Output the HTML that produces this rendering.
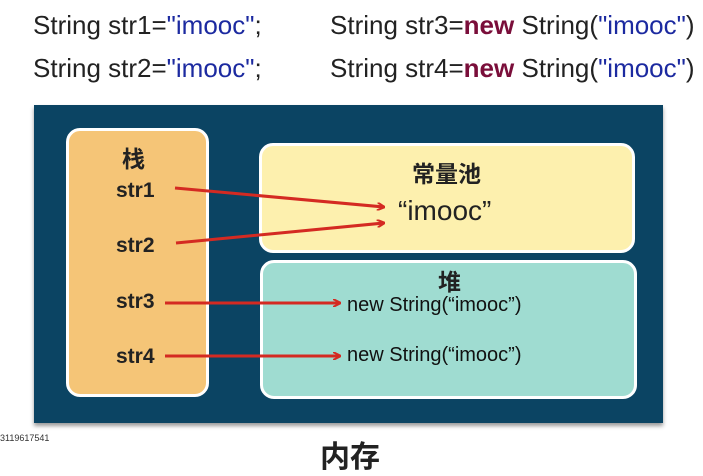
<!DOCTYPE html>
<html><head><meta charset="utf-8"><style>
body{margin:0;width:703px;height:443px;background:#fff;position:relative;overflow:hidden;font-family:"Liberation Sans","Noto Sans CJK SC",sans-serif}
.t{position:absolute;white-space:nowrap}
.code{font-size:26px;color:#222;line-height:30px}
.code .s{color:#1c2aa0}.code b{color:#7a0e3a}
.box{position:absolute;border:3px solid #fff;border-radius:14px;box-sizing:border-box}
</style></head><body>
<div class="t code" style="left:33px;top:10px">String str1=<span class="s">"imooc"</span>;</div>
<div class="t code" style="left:330px;top:10px">String str3=<b>new</b> String(<span class="s">"imooc"</span>)</div>
<div class="t code" style="left:33px;top:53px">String str2=<span class="s">"imooc"</span>;</div>
<div class="t code" style="left:330px;top:53px">String str4=<b>new</b> String(<span class="s">"imooc"</span>)</div>
<div style="position:absolute;left:34px;top:105px;width:629px;height:318px;background:#0b4463;box-shadow:0 3px 4px #999"></div>
<div class="box" style="left:66px;top:128px;width:143px;height:269px;background:#f5c577"></div>
<div class="box" style="left:259px;top:143px;width:376px;height:110px;background:#fdf0ae"></div>
<div class="box" style="left:260px;top:260px;width:377px;height:139px;background:#9fdcd1"></div>
<div class="t" style="left:122px;top:140px;font-size:23px;font-weight:bold;color:#222">栈</div>
<div class="t" style="left:116px;top:179px;font-size:21px;font-weight:bold;color:#222">str1</div>
<div class="t" style="left:116px;top:234px;font-size:21px;font-weight:bold;color:#222">str2</div>
<div class="t" style="left:116px;top:290px;font-size:21px;font-weight:bold;color:#222">str3</div>
<div class="t" style="left:116px;top:345px;font-size:21px;font-weight:bold;color:#222">str4</div>
<div class="t" style="left:412px;top:155px;font-size:23px;font-weight:bold;color:#222">常量池</div>
<div class="t" style="left:398px;top:195px;font-size:28px;color:#222">“imooc”</div>
<div class="t" style="left:438px;top:263px;font-size:23px;font-weight:bold;color:#222">堆</div>
<div class="t" style="left:347px;top:294px;font-size:20px;color:#111">new String(“imooc”)</div>
<div class="t" style="left:347px;top:344px;font-size:20px;color:#111">new String(“imooc”)</div>
<svg style="position:absolute;left:0;top:0" width="703" height="443">
<defs><marker id="a" markerWidth="8" markerHeight="8" refX="7" refY="4" orient="auto" markerUnits="userSpaceOnUse"><path d="M0,0 L8,4 L0,8" fill="none" stroke="#d42a22" stroke-width="2"/></marker></defs>
<g stroke="#d42a22" stroke-width="3" fill="none" marker-end="url(#a)">
<line x1="175" y1="188" x2="384" y2="207"/>
<line x1="176" y1="243" x2="384" y2="223"/>
<line x1="165" y1="303" x2="340" y2="303"/>
<line x1="165" y1="356" x2="340" y2="356"/>
</g></svg>
<div class="t" style="left:0;top:433px;font-size:9px;color:#333">3119617541</div>
<div class="t" style="left:320px;top:432px;font-size:30px;font-weight:bold;color:#222">内存</div>
</body></html>
